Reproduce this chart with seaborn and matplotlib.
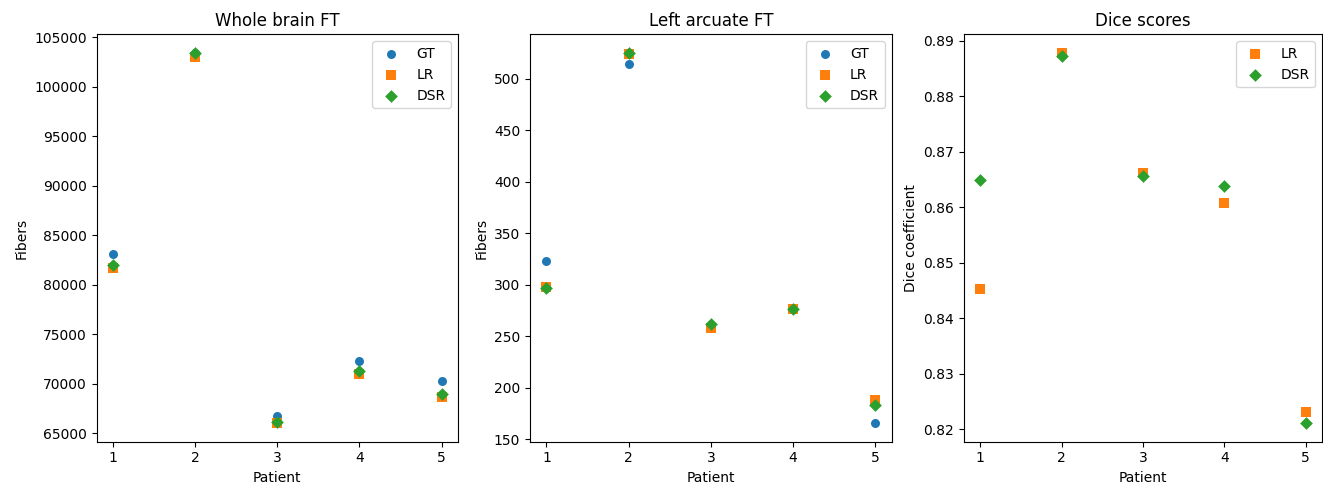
import matplotlib
matplotlib.use("Agg")
import matplotlib.pyplot as plt
import seaborn as sns
import pandas as pd

patients = [1, 2, 3, 4, 5]

wb_gt = [83100, 103450, 66700, 72300, 70250]
wb_lr = [81700, 103050, 66000, 70950, 68600]
wb_dsr = [82000, 103400, 66100, 71250, 69000]

la_gt = [323, 514, 260, 276, 165.5]
la_lr = [297.5, 523.5, 258, 276, 188]
la_dsr = [296.5, 525, 261.3, 276.8, 183.3]

dice_lr = [0.8453, 0.8878, 0.8662, 0.8608, 0.8231]
dice_dsr = [0.8649, 0.8873, 0.8657, 0.8638, 0.8211]

colors = {"GT": "#1f77b4", "LR": "#ff7f0e", "DSR": "#2ca02c"}
markers = {"GT": "o", "LR": "s", "DSR": "D"}

fig = plt.figure(figsize=(13.23, 4.87), dpi=100)
W, H = 1323, 487
bottom = 1 - 441.7 / H
height = (441.7 - 34.3) / H
lefts = [96.7, 530.0, 964.0]
rights = [458.0, 891.7, 1322.0]
axes = [fig.add_axes([l / W, bottom, (r - l) / W, height]) for l, r in zip(lefts, rights)]

def draw(ax, series, title, ylabel):
    for name, vals in series:
        df = pd.DataFrame({"Patient": patients, "val": vals})
        sns.scatterplot(data=df, x="Patient", y="val", ax=ax, color=colors[name],
                        marker=markers[name], s=42, label=name, linewidth=0)
    ax.set_title(title, fontsize=12)
    ax.set_xlabel("Patient")
    ax.set_ylabel(ylabel)
    ax.set_xticks(patients)
    ax.legend(loc="upper right")

draw(axes[0], [("GT", wb_gt), ("LR", wb_lr), ("DSR", wb_dsr)], "Whole brain FT", "Fibers")
draw(axes[1], [("GT", la_gt), ("LR", la_lr), ("DSR", la_dsr)], "Left arcuate FT", "Fibers")
draw(axes[2], [("LR", dice_lr), ("DSR", dice_dsr)], "Dice scores", "Dice coefficient")

fig.savefig("out.png", dpi=100)
